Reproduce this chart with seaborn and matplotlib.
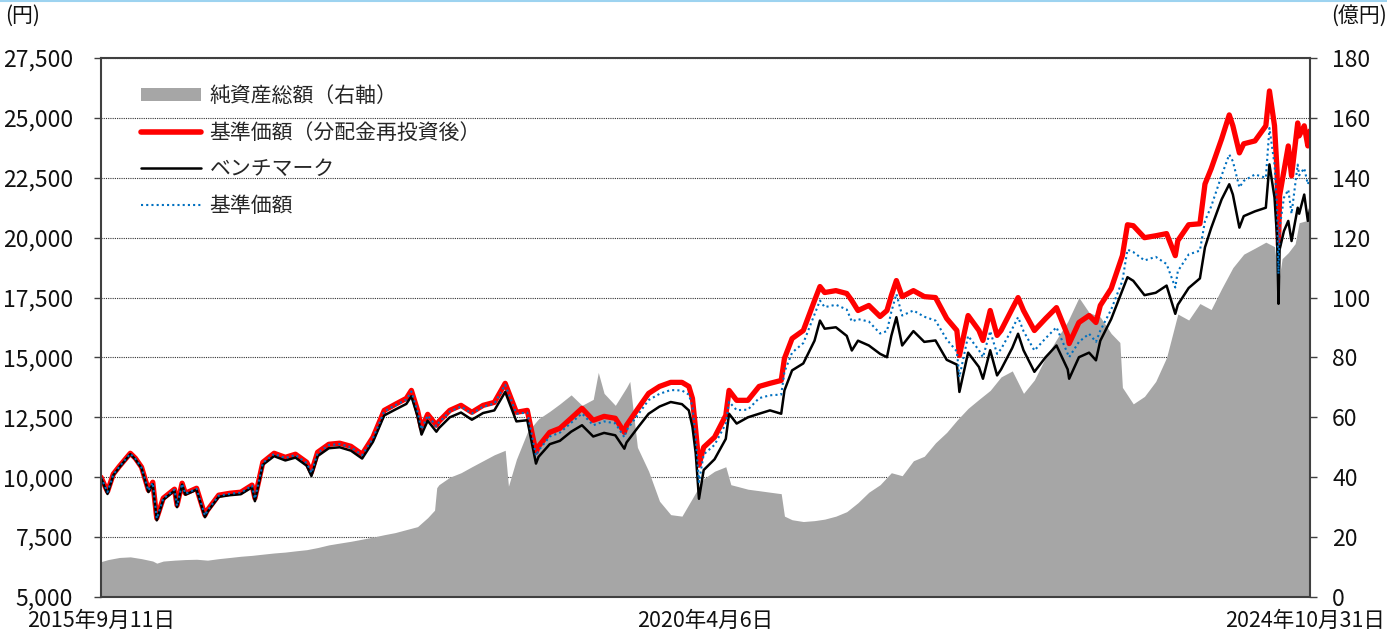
import pandas as pd
import matplotlib
matplotlib.use("Agg")
import matplotlib.pyplot as plt
import matplotlib.transforms as mtransforms
from matplotlib.patches import Patch
from matplotlib.lines import Line2D
from matplotlib.ticker import FuncFormatter
import seaborn as sns

# 基準価額・ベンチマーク (円)
dates = [
    "2015-09-11", "2015-09-29", "2015-10-15", "2015-11-01", "2015-12-01", "2015-12-15",
    "2016-01-01", "2016-01-20", "2016-02-01", "2016-02-12", "2016-03-01", "2016-04-01",
    "2016-04-08", "2016-04-22", "2016-05-01", "2016-06-01", "2016-06-24", "2016-07-01",
    "2016-08-01", "2016-09-01", "2016-10-01", "2016-11-01", "2016-11-09", "2016-12-01",
    "2017-01-01", "2017-02-01", "2017-03-01", "2017-04-01", "2017-04-14", "2017-05-01",
    "2017-06-01", "2017-07-01", "2017-08-01", "2017-09-01", "2017-10-01", "2017-11-01",
    "2017-12-01", "2018-01-01", "2018-01-15", "2018-02-01", "2018-02-12", "2018-03-01",
    "2018-03-25", "2018-04-01", "2018-05-01", "2018-06-01", "2018-07-01", "2018-08-01",
    "2018-09-01", "2018-10-01", "2018-11-01", "2018-12-01", "2018-12-25", "2019-01-01",
    "2019-02-01", "2019-03-01", "2019-04-01", "2019-05-01", "2019-06-01", "2019-07-01",
    "2019-08-01", "2019-08-26", "2019-09-01", "2019-10-01", "2019-11-01", "2019-12-01",
    "2020-01-01", "2020-02-01", "2020-02-20", "2020-03-01", "2020-03-10", "2020-03-19",
    "2020-04-01", "2020-05-01", "2020-06-01", "2020-06-10", "2020-07-01", "2020-08-01",
    "2020-09-01", "2020-10-01", "2020-11-01", "2020-11-10", "2020-12-01", "2021-01-01",
    "2021-02-01", "2021-02-16", "2021-03-01", "2021-04-01", "2021-05-01", "2021-05-15",
    "2021-06-01", "2021-07-01", "2021-08-01", "2021-08-20", "2021-09-01", "2021-09-15",
    "2021-10-01", "2021-11-01", "2021-12-01", "2022-01-01", "2022-02-01", "2022-03-01",
    "2022-03-08", "2022-04-01", "2022-05-01", "2022-05-12", "2022-06-01", "2022-06-20",
    "2022-07-01", "2022-08-01", "2022-08-17", "2022-09-01", "2022-10-01", "2022-11-01",
    "2022-12-01", "2023-01-01", "2023-01-05", "2023-02-01", "2023-03-01", "2023-03-20",
    "2023-04-01", "2023-05-01", "2023-06-01", "2023-06-15", "2023-07-01", "2023-08-01",
    "2023-09-01", "2023-10-01", "2023-10-25", "2023-11-01", "2023-12-01", "2024-01-01",
    "2024-01-15", "2024-02-01", "2024-03-01", "2024-03-22", "2024-04-01", "2024-04-19",
    "2024-05-01", "2024-06-01", "2024-07-01", "2024-07-11", "2024-07-25", "2024-08-01",
    "2024-08-05", "2024-08-08", "2024-08-20", "2024-09-01", "2024-09-10", "2024-09-27",
    "2024-10-01", "2024-10-15", "2024-10-25", "2024-10-31",
]

nav_reinvested = [
    10000, 9400, 10130, 10460, 11000, 10790,
    10420, 9460, 9790, 8290, 9125, 9500,
    8830, 9750, 9330, 9540, 8420, 8625,
    9250, 9330, 9375, 9670, 9125, 10625,
    11000, 10830, 10960, 10625, 10210, 11040,
    11375, 11420, 11290, 10960, 11670, 12790,
    13040, 13290, 13625, 12790, 12040, 12625,
    12170, 12330, 12790, 13000, 12710, 13000,
    13125, 13920, 12710, 12790, 11040, 11290,
    11875, 12040, 12460, 12875, 12375, 12540,
    12460, 11875, 12170, 12830, 13500, 13790,
    13960, 13960, 13790, 13290, 11960, 10500,
    11250, 11670, 12580, 13625, 13210, 13210,
    13790, 13920, 14040, 14960, 15790, 16125,
    17375, 17960, 17710, 17790, 17670, 17375,
    16960, 17170, 16710, 16960, 17580, 18210,
    17540, 17790, 17540, 17500, 16625, 16125,
    15080, 16750, 16125, 15710, 16960, 15920,
    16125, 17040, 17500, 16960, 16125, 16625,
    17080, 15920, 15580, 16460, 16750, 16460,
    17170, 17875, 19250, 20540, 20500, 20000,
    20080, 20170, 19250, 19875, 20540, 20580,
    22240, 22875, 24125, 25125, 24670, 23540,
    23920, 24040, 24670, 26125, 24670, 22790,
    19670, 21750, 22790, 23830, 22580, 24790,
    24250, 24670, 23830, 24460,
]

benchmark = [
    9980, 9300, 10080, 10420, 10960, 10750,
    10380, 9380, 9710, 8200, 9060, 9440,
    8750, 9690, 9270, 9480, 8330, 8560,
    9180, 9250, 9290, 9580, 9000, 10520,
    10880, 10700, 10820, 10480, 10050, 10880,
    11210, 11250, 11110, 10780, 11480, 12580,
    12820, 13060, 13380, 12540, 11780, 12360,
    11900, 12050, 12500, 12700, 12400, 12680,
    12790, 13560, 12330, 12380, 10570, 10850,
    11380, 11520, 11900, 12170, 11700, 11850,
    11750, 11190, 11450, 12050, 12650, 12950,
    13140, 13050, 12790, 12100, 11000, 9100,
    10300, 10750, 11600, 12650, 12240, 12500,
    12650, 12790, 12650, 13625, 14460, 14750,
    15700, 16540, 16200, 16260, 15900, 15290,
    15700, 15500, 15150, 15010, 15900, 16680,
    15500, 16100, 15650, 15710, 14900, 14700,
    13560, 15200, 14600, 14110, 15300, 14250,
    14500, 15400, 15990, 15300, 14400, 15010,
    15500, 14500, 14110, 15010, 15200, 14880,
    15700, 16600, 17800, 18350, 18200, 17600,
    17700, 18000, 16820, 17200, 17900, 18300,
    19600, 20400, 21600, 22230, 21800, 20420,
    20900, 21100, 21250, 23060, 21670, 20000,
    17240, 19500, 20280, 20700, 19860, 21250,
    21000, 21800, 20700, 21200,
]

nav = [
    9990, 9380, 10110, 10440, 10980, 10770,
    10400, 9440, 9770, 8270, 9105, 9480,
    8810, 9730, 9310, 9520, 8400, 8605,
    9230, 9310, 9355, 9650, 9100, 10600,
    10970, 10800, 10930, 10595, 10180, 11010,
    11340, 11385, 11255, 10925, 11630, 12750,
    13000, 13245, 13580, 12745, 11995, 12580,
    12125, 12285, 12740, 12950, 12660, 12950,
    13070, 13860, 12650, 12700, 10900, 11120,
    11700, 11860, 12270, 12660, 12170, 12330,
    12250, 11670, 11960, 12580, 13220, 13480,
    13640, 13620, 13450, 12950, 11650, 9800,
    10950, 11350, 12230, 13150, 12800, 12820,
    13300, 13420, 13450, 14400, 15200, 15600,
    16800, 17375, 17100, 17200, 17000, 16500,
    16600, 16500, 16000, 16100, 16900, 17650,
    16750, 16960, 16700, 16540, 15750, 15250,
    14180, 15900, 15300, 15010, 16100, 15150,
    15350, 16200, 16680, 16100, 15290, 15800,
    16260, 15150, 15010, 15650, 15990, 15650,
    16120, 17000, 18200, 19500, 19400, 19050,
    19200, 18900, 17920, 18600, 19300, 19460,
    20700, 21300, 22600, 23470, 23190, 22100,
    22370, 22640, 22500, 24580, 23050, 21300,
    18490, 20400, 21670, 22000, 21000, 23050,
    22600, 22900, 22230, 22500,
]

# 純資産総額 (億円)
aum_dates = [
    "2015-09-11", "2015-10-01", "2015-11-01", "2015-12-01", "2016-01-01", "2016-02-01",
    "2016-02-12", "2016-03-01", "2016-04-01", "2016-05-01", "2016-06-01", "2016-07-01",
    "2016-08-01", "2016-09-01", "2016-10-01", "2016-11-01", "2016-12-01", "2017-01-01",
    "2017-02-01", "2017-03-01", "2017-04-01", "2017-05-01", "2017-06-01", "2017-07-01",
    "2017-08-01", "2017-09-01", "2017-10-01", "2017-11-01", "2017-12-01", "2018-01-01",
    "2018-02-01", "2018-03-01", "2018-03-20", "2018-03-26", "2018-04-01", "2018-05-01",
    "2018-06-01", "2018-07-01", "2018-08-01", "2018-09-01", "2018-10-01", "2018-10-10",
    "2018-11-01", "2018-12-01", "2019-01-01", "2019-02-01", "2019-03-01", "2019-04-01",
    "2019-05-01", "2019-06-01", "2019-06-15", "2019-07-01", "2019-08-01", "2019-09-01",
    "2019-09-10", "2019-10-01", "2019-11-01", "2019-12-01", "2020-01-01", "2020-02-01",
    "2020-03-01", "2020-04-01", "2020-05-01", "2020-06-01", "2020-06-15", "2020-07-01",
    "2020-08-01", "2020-09-01", "2020-10-01", "2020-11-01", "2020-11-10", "2020-12-01",
    "2021-01-01", "2021-02-01", "2021-03-01", "2021-04-01", "2021-05-01", "2021-06-01",
    "2021-07-01", "2021-08-01", "2021-09-01", "2021-10-01", "2021-11-01", "2021-12-01",
    "2022-01-01", "2022-02-01", "2022-03-01", "2022-04-01", "2022-05-01", "2022-06-01",
    "2022-07-01", "2022-08-01", "2022-09-01", "2022-10-01", "2022-11-01", "2022-12-01",
    "2023-01-01", "2023-02-01", "2023-03-01", "2023-04-01", "2023-05-01", "2023-05-25",
    "2023-06-01", "2023-07-01", "2023-08-01", "2023-09-01", "2023-10-01", "2023-11-01",
    "2023-12-01", "2024-01-01", "2024-02-01", "2024-03-01", "2024-04-01", "2024-05-01",
    "2024-06-01", "2024-07-01", "2024-07-25", "2024-08-05", "2024-08-15", "2024-09-01",
    "2024-09-20", "2024-10-01", "2024-10-31",
]

aum = [
    11.8, 12.5, 13.2, 13.4, 12.8, 12.0,
    11.3, 12.0, 12.3, 12.5, 12.6, 12.3,
    12.8, 13.2, 13.6, 13.9, 14.3, 14.7,
    15.0, 15.4, 15.8, 16.5, 17.4, 18.0,
    18.6, 19.3, 20.0, 20.8, 21.5, 22.5,
    23.5, 26.5, 29.0, 36.5, 37.5, 40.0,
    41.5, 43.5, 45.5, 47.5, 49.0, 37.0,
    46.0, 55.0, 59.5, 62.0, 64.5, 67.5,
    64.0, 66.0, 75.0, 68.0, 64.0, 70.0,
    72.0, 50.0, 42.0, 32.0, 27.5, 27.0,
    33.0, 39.5, 42.0, 43.5, 37.5, 37.0,
    36.0, 35.5, 35.0, 34.5, 27.0, 25.8,
    25.2, 25.5, 26.0, 27.0, 28.5, 31.5,
    35.0, 37.5, 41.5, 40.5, 45.5, 47.0,
    51.5, 55.0, 59.0, 63.0, 66.0, 69.0,
    73.5, 75.5, 68.0, 72.5, 80.0, 86.0,
    92.0, 100.0, 95.0, 93.5, 88.0, 85.0,
    70.0, 64.5, 67.0, 72.0, 80.0, 94.5,
    92.5, 98.0, 96.0, 103.0, 110.0, 114.5,
    116.5, 118.5, 117.0, 105.0, 113.0, 115.0,
    118.0, 125.0, 126.0,
]

xtick_dates = ["2015-09-11", "2020-04-06", "2024-10-31"]
xtick_labels = ["2015年9月11日", "2020年4月6日", "2024年10月31日"]

labels = ["純資産総額（右軸）", "基準価額（分配金再投資後）", "ベンチマーク", "基準価額"]

df = pd.DataFrame({
    "date": pd.to_datetime(dates),
    "nav_reinvested": nav_reinvested,
    "benchmark": benchmark,
    "nav": nav,
})
df_aum = pd.DataFrame({"date": pd.to_datetime(aum_dates), "aum": aum})

sns.set_style("white")
plt.rcParams["font.family"] = ["Noto Sans CJK JP", "DejaVu Sans"]

GRAY = "#A6A6A6"
RED = "#FF0000"
BLUE = "#0070C0"
FRAME = "#404040"

fig = plt.figure(figsize=(13.87, 6.3), dpi=100)
ax = fig.add_axes([0.0728, 0.0524, 0.8717, 0.8555])
ax2 = ax.twinx()

# 純資産総額は右軸、線は左軸で前面に
ax.set_zorder(2)
ax2.set_zorder(1)
ax.patch.set_visible(False)

ax2.fill_between(df_aum["date"], df_aum["aum"], 0, color=GRAY, linewidth=0)
ax2.set_ylim(0, 180)
ax2.set_yticks(range(0, 181, 20))
ax2.set_axisbelow(True)
ax2.grid(axis="y", color="#333333", linestyle=(0, (1, 1)), linewidth=0.8)
for s in ax2.spines.values():
    s.set_visible(False)

sns.lineplot(data=df, x="date", y="nav_reinvested", ax=ax, color=RED, linewidth=3.8, legend=False)
sns.lineplot(data=df, x="date", y="benchmark", ax=ax, color="black", linewidth=1.8, legend=False)
sns.lineplot(data=df, x="date", y="nav", ax=ax, color=BLUE, linewidth=1.5,
             linestyle=(0, (1, 1.5)), legend=False)

ax.set_ylim(5000, 27500)
ax.set_yticks(range(5000, 27501, 2500))
ax.yaxis.set_major_formatter(FuncFormatter(lambda v, _: f"{int(v):,}"))
xt = pd.to_datetime(xtick_dates)
ax.set_xlim(xt[0], xt[-1])
ax.set_xticks(xt)
ax.set_xticklabels(xtick_labels)
ax.set_xlabel("")
ax.set_ylabel("")
ax2.set_ylabel("")

for s in ax.spines.values():
    s.set_visible(True)
    s.set_color(FRAME)
    s.set_linewidth(1.5)

ax.tick_params(axis="y", direction="out", length=5, width=1, color=FRAME,
               pad=15, labelsize=16.5, labelcolor="#111111")
ax.tick_params(axis="x", direction="in", length=5, width=1, color=FRAME,
               pad=9, labelsize=15.5, labelcolor="#111111")
ax2.tick_params(axis="y", direction="out", length=5, width=1, color=FRAME,
                pad=11, labelsize=16.5, labelcolor="#111111")

# 右端の日付ラベルを図の内側へ少しずらす
last = ax.get_xticklabels()[-1]
last.set_transform(last.get_transform() + mtransforms.ScaledTranslation(-5 / 100, 0, fig.dpi_scale_trans))

handles = [
    Patch(facecolor=GRAY, edgecolor="none"),
    Line2D([], [], color=RED, linewidth=4),
    Line2D([], [], color="black", linewidth=1.8),
    Line2D([], [], color=BLUE, linewidth=1.5, linestyle=(0, (1, 1.5))),
]
ax.legend(handles, labels, loc="upper left", bbox_to_anchor=(0.033, 0.95),
          borderaxespad=0, borderpad=0, frameon=False, fontsize=15,
          handlelength=2.9, handleheight=0.55, handletextpad=0.4, labelspacing=0.7)

fig.text(5 / 1387, 1 - 16 / 630, "(円)", ha="left", va="center", fontsize=15, color="#111111")
fig.text(1331 / 1387, 1 - 16 / 630, "(億円)", ha="left", va="center", fontsize=15, color="#111111")
fig.add_artist(Line2D([0, 1], [0.999, 0.999], transform=fig.transFigure, color="#9DD3F0", linewidth=1.5))

fig.savefig("out.png", dpi=100)
